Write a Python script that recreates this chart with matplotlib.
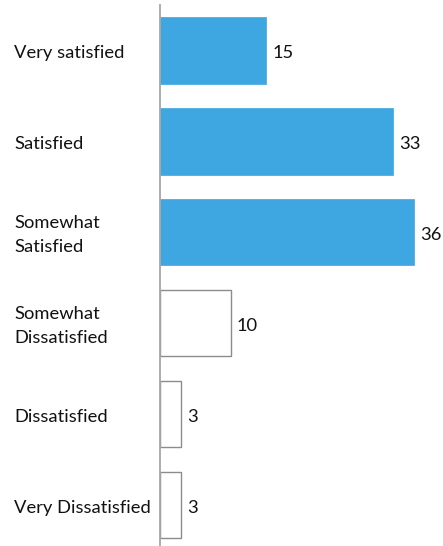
import matplotlib.pyplot as plt
import matplotlib.transforms as mtransforms

# data
categories = ['Very satisfied', 'Satisfied', 'Somewhat\nSatisfied',
              'Somewhat\nDissatisfied', 'Dissatisfied', 'Very Dissatisfied']
values = [15, 33, 36, 10, 3, 3]
filled = [True, True, True, False, False, False]

plt.rcParams['font.family'] = ['Lato', 'DejaVu Sans']

fig = plt.figure(figsize=(4.43, 5.46), dpi=100)
ax = fig.add_axes([160 / 443, 0, 283 / 443, 541 / 546])

pos = list(range(len(categories)))
for p, v, f in zip(pos, values, filled):
    if f:
        ax.barh(p, v, height=0.73, color='#3ea6e0', edgecolor='#3ea6e0', linewidth=0.5)
    else:
        ax.barh(p, v, height=0.73, color='white', edgecolor='#8c8c8c', linewidth=1)
    ax.annotate(str(v), (v, p), xytext=(4.5, -2), textcoords='offset points',
                va='center', ha='left', fontsize=13.2, color='#111111')

ax.set_xlim(0, 40.1)
ax.set_ylim(5.45, -0.5)

trans = mtransforms.blended_transform_factory(fig.transFigure, ax.transData)
for p, c in zip(pos, categories):
    ax.annotate(c, (14 / 443, p), xycoords=trans, xytext=(0, -2),
                textcoords='offset points', ha='left', va='center',
                fontsize=13.2, color='#111111', linespacing=1.6)

ax.set_xticks([])
ax.set_yticks([])
for s in ['top', 'right', 'bottom']:
    ax.spines[s].set_visible(False)
ax.spines['left'].set_color('#a6a6a6')
ax.spines['left'].set_linewidth(1.3)

fig.savefig('out.png', dpi=100)
